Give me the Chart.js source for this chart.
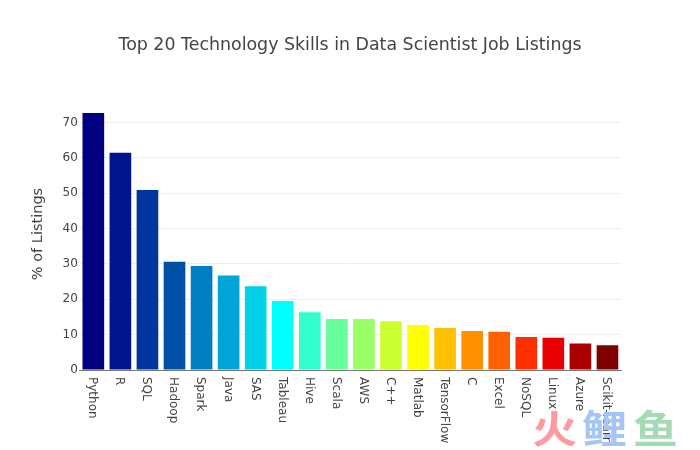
<!DOCTYPE html>
<html>
<head>
<meta charset="utf-8">
<script src="https://cdn.jsdelivr.net/npm/chart.js@4"></script>
<style>
  html, body { margin: 0; padding: 0; background: #fff; }
  canvas { display: block; }
</style>
</head>
<body>
<canvas id="skills-chart" width="700" height="450"></canvas>
<script>
const SKILLS = ["Python", "R", "SQL", "Hadoop", "Spark", "Java", "SAS", "Tableau", "Hive", "Scala",
  "AWS", "C++", "Matlab", "TensorFlow", "C", "Excel", "NoSQL", "Linux", "Azure", "Scikit-learn"];
const LISTING_PCT = [72.7, 61.4, 50.9, 30.6, 29.4, 26.7, 23.7, 19.5, 16.3, 14.4,
  14.4, 13.8, 12.7, 11.9, 11.0, 10.8, 9.3, 9.1, 7.5, 7.0];
const BAR_COLORS = ["#000080", "#00148c", "#00349e", "#0050a8", "#007fc4", "#00a5d8", "#00d0e8", "#00ffff", "#33ffcc", "#66ff99",
  "#99ff66", "#ccff33", "#ffff00", "#ffc000", "#ff9000", "#ff6000", "#ff3000", "#e80000", "#aa0000", "#800000"];
const Y_TICKS = [0, 10, 20, 30, 40, 50, 60, 70];
const TEXT_COLOR = "#444";
const WATERMARK = [
  { text: "火", color: "#ff9a9e", x: 532 },
  { text: "鲤", color: "#a6c5f7", x: 582 },
  { text: "鱼", color: "#a5dbb2", x: 633 },
];

// chart.js right-aligns rotated labels, so the top-to-bottom ones are drawn here
const downwardLabels = {
  id: "downwardLabels",
  afterDraw(chart) {
    const { ctx, scales } = chart;
    ctx.save();
    ctx.font = "12px 'DejaVu Sans'";
    ctx.fillStyle = TEXT_COLOR;
    ctx.textAlign = "left";
    ctx.textBaseline = "middle";
    SKILLS.forEach((name, i) => {
      ctx.save();
      ctx.translate(scales.x.getPixelForTick(i) - 1, scales.x.top + 7);
      ctx.rotate(Math.PI / 2);
      ctx.fillText(name, 0, 0);
      ctx.restore();
    });
    ctx.restore();
  },
};

// axis title sits above the middle of the plot, scale titles can only centre on it
const yAxisTitle = {
  id: "yAxisTitle",
  afterDraw(chart) {
    const { ctx } = chart;
    ctx.save();
    ctx.font = "14.5px 'DejaVu Sans'";
    ctx.fillStyle = TEXT_COLOR;
    ctx.textAlign = "center";
    ctx.textBaseline = "middle";
    ctx.translate(38, 234);
    ctx.rotate(-Math.PI / 2);
    ctx.fillText("% of Listings", 0, 0);
    ctx.restore();
  },
};

const watermark = {
  id: "watermark",
  afterDraw(chart) {
    const { ctx } = chart;
    ctx.save();
    ctx.font = "bold 45px 'Noto Sans CJK SC'";
    ctx.textAlign = "left";
    ctx.textBaseline = "alphabetic";
    WATERMARK.forEach((w) => {
      ctx.save();
      ctx.fillStyle = w.color;
      ctx.translate(w.x, 443);
      ctx.scale(1, 0.85);
      ctx.fillText(w.text, 0, 0);
      ctx.restore();
    });
    ctx.restore();
  },
};

new Chart(document.getElementById("skills-chart"), {
  type: "bar",
  data: {
    labels: SKILLS,
    datasets: [{
      data: LISTING_PCT,
      backgroundColor: BAR_COLORS,
      categoryPercentage: 1,
      barPercentage: 0.8,
    }],
  },
  options: {
    responsive: false,
    animation: false,
    layout: { padding: 0 },
    plugins: {
      legend: { display: false },
      tooltip: { enabled: false },
      title: {
        display: true,
        text: "Top 20 Technology Skills in Data Scientist Job Listings",
        color: TEXT_COLOR,
        font: { family: "DejaVu Sans", size: 17.4, weight: "normal" },
        padding: { top: 35, bottom: 57 },
      },
    },
    scales: {
      x: {
        grid: { display: false },
        border: { color: "#777", width: 1 },
        ticks: { display: false },
        afterFit: (axis) => { axis.height = 80; },
      },
      y: {
        min: 0,
        max: 72.7,
        grid: { color: "#eee", drawTicks: false },
        border: { display: false },
        ticks: { color: TEXT_COLOR, padding: 2, font: { family: "DejaVu Sans", size: 12 } },
        afterBuildTicks: (axis) => { axis.ticks = Y_TICKS.map((value) => ({ value })); },
        afterFit: (axis) => { axis.width = 79.8; },
      },
      // empty axis, keeps the plot clear of the right side so the title stays centred on the page
      spacer: {
        position: "right",
        grid: { display: false },
        border: { display: false },
        ticks: { display: false },
        afterFit: (axis) => { axis.width = 79; },
      },
    },
  },
  plugins: [downwardLabels, yAxisTitle, watermark],
});
</script>
</body>
</html>
